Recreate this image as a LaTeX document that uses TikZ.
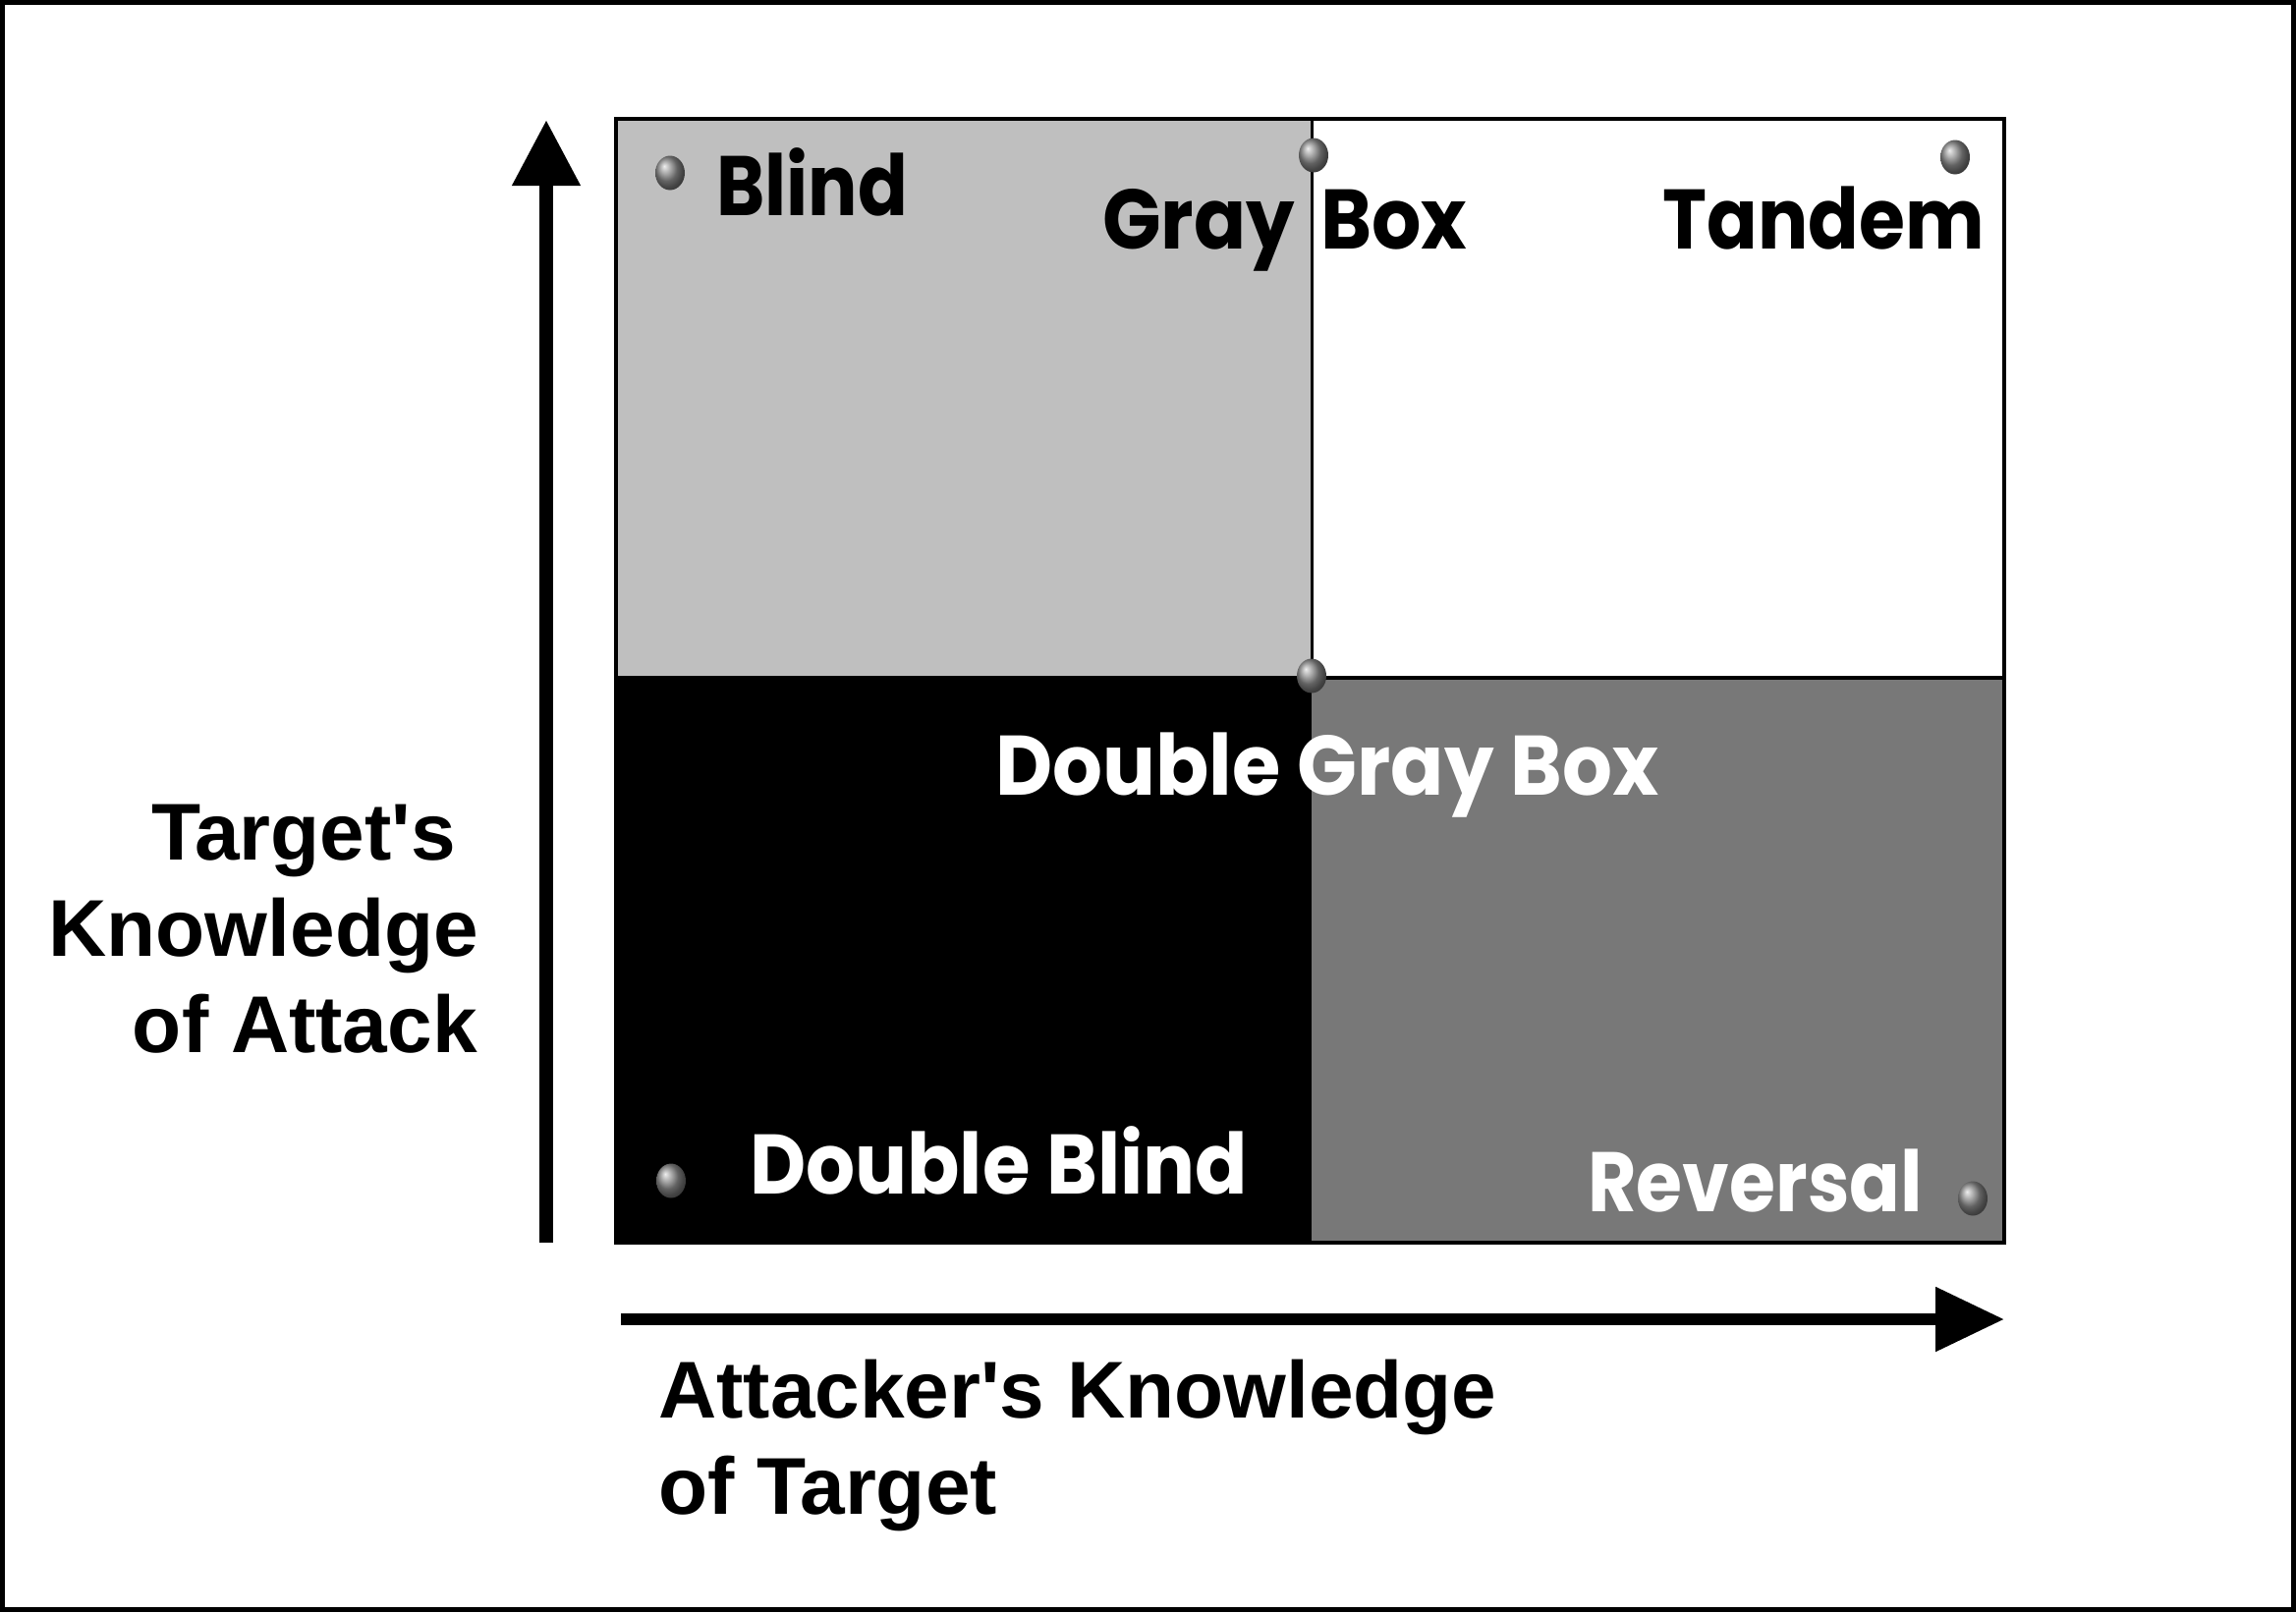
\documentclass[tikz,border=0pt]{standalone}
\usepackage{fontspec}
\setmainfont{Poppins}
\newfontfamily\axisfont{Liberation Sans}
\usetikzlibrary{arrows.meta,shapes.geometric}
\definecolor{lightq}{gray}{0.75}
\definecolor{darkq}{gray}{0.47}
\begin{document}
\begin{tikzpicture}[x=1pt,y=-1pt,
  quad/.style={fill=#1, draw=none, inner sep=0pt, anchor=north west},
  qlabel/.style={font=\fontsize{86}{97}\selectfont\bfseries, inner sep=0pt, anchor=base west},
  axlabel/.style={font=\axisfont\fontsize{82}{97}\selectfont\bfseries, inner sep=0pt},
  knob/.style={ellipse, minimum width=30pt, minimum height=35pt, inner sep=0pt, shading=ball, ball color=gray!90},
  axis/.style={line width=14pt, -{Triangle[length=67pt,width=66pt]}}
]
\useasboundingbox (0,0) rectangle (2337,1641);
\draw[line width=5pt] (2.5,2.5) rectangle (2334.5,1638.5);

% quadrants
\node[quad=lightq, minimum width=708pt, minimum height=569pt] (qblind) at (627,121) {};
\node[quad=white, minimum width=705pt, minimum height=569pt] (qtandem) at (1335,121) {};
\node[quad=black, minimum width=708pt, minimum height=575pt] (qdblind) at (627,690) {};
\node[quad=darkq, minimum width=705pt, minimum height=575pt] (qrev) at (1335,690) {};
\draw[line width=3.5pt] (qblind.north east) -- (qblind.south east);
\draw[line width=4pt] (qblind.south west) -- (qtandem.south east);
\draw[line width=4pt] (qblind.north west) rectangle (qrev.south east);

% labels
\node[qlabel, xscale=0.87] (tblind) at (729,219) {Blind};
\node[qlabel, xscale=0.91, anchor=base east] (tgray) at (1318,253) {Gray};
\node[qlabel, xscale=0.92] (tbox) at (1344,253) {Box};
\node[qlabel, xscale=0.885, anchor=base east] (ttandem) at (2020,253) {Tandem};
\node[qlabel, xscale=0.93, text=white, anchor=base] (tdgb) at (1351,809) {Double Gray Box};
\node[qlabel, xscale=0.915, text=white] (tdb) at (763,1215) {Double Blind};
\node[qlabel, xscale=0.886, text=white, anchor=base east] (trev) at (1957,1233) {Reversal};

% knobs
\node[knob] (k1) at (682,176) {};
\node[knob] (k2) at (1337,158) {};
\node[knob] (k3) at (1990,160) {};
\node[knob] (k4) at (1335,688) {};
\node[knob] (k5) at (683,1202) {};
\node[knob] (k6) at (2008,1220) {};

% axes
\coordinate (vs) at (556,1265);
\coordinate (ve) at (556,122);
\draw[axis] (vs) -- (ve);
\coordinate (hs) at (632,1343);
\coordinate (he) at (2040,1343);
\draw[axis, line width=12pt, -{Triangle[length=70pt,width=63pt]}] (hs) -- (he);

% axis labels
\node[axlabel, anchor=base east] (y1) at (464,875) {Target\textquotesingle s};
\node[axlabel, anchor=base east] (y2) at (487,973) {Knowledge};
\node[axlabel, anchor=base east] (y3) at (486,1071) {of Attack};
\node[axlabel, anchor=base west] (x1) at (670,1443) {Attacker\textquotesingle s Knowledge};
\node[axlabel, anchor=base west] (x2) at (670,1541) {of Target};
\end{tikzpicture}
\end{document}
